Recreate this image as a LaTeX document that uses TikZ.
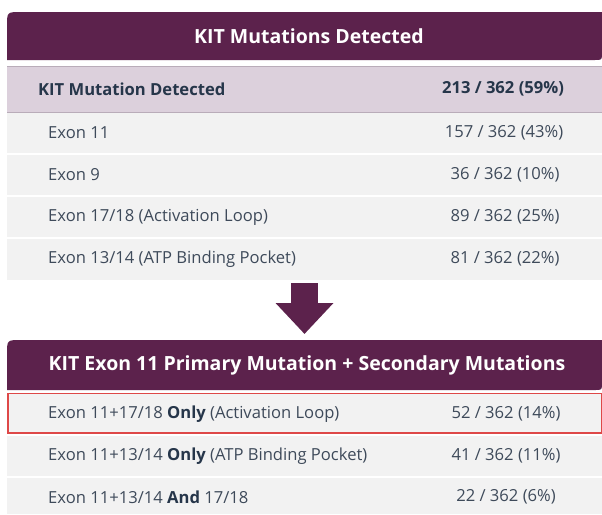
\documentclass[tikz,border=0pt]{standalone}
\usepackage{fontspec}
\setmainfont{Open Sans}
\usetikzlibrary{arrows.meta}
\definecolor{hdr}{RGB}{92,34,76}
\definecolor{lav}{RGB}{220,208,220}
\definecolor{lavline}{RGB}{185,172,185}
\definecolor{rowbg}{RGB}{242,242,242}
\definecolor{txt}{RGB}{62,74,90}
\definecolor{txtb}{RGB}{38,54,74}
\definecolor{redline}{RGB}{222,72,72}
\begin{document}
\begin{tikzpicture}[x=1pt,y=-1pt,
  hdrtext/.style={text=white,font=\fontsize{19.5}{22}\selectfont\bfseries,inner sep=0pt},
  lefttext/.style={anchor=west,text=txt,font=\fontsize{16.6}{19}\selectfont,inner sep=0pt},
  righttext/.style={text=txt,font=\fontsize{16.6}{19}\selectfont,inner sep=0pt},
  boldleft/.style={lefttext,text=txtb,font=\fontsize{16.6}{19}\selectfont\bfseries},
  boldright/.style={righttext,text=txtb,font=\fontsize{16.6}{19}\selectfont\bfseries},
  rowfill/.style={fill=rowbg},
  hdrfill/.style={fill=hdr}]
\useasboundingbox (0,0) rectangle (602,514);
\fill[white] (0,0) rectangle (602,514);
% ---------- table 1 ----------
\fill[hdrfill] (7,60) -- (7,26) .. controls (7,12) .. (21,12) -- (602,12) -- (602,53) .. controls (602,60) .. (595,60) -- cycle;
\node[hdrtext] (h1) at (309,36) {KIT Mutations Detected};
\fill[lav] (7,66) rectangle (602,112);
\draw[lavline,line width=1pt] (7,66) -- (602,66) (7,112) -- (602,112);
\node[boldleft] (r0l) at (38,89) {KIT Mutation Detected};
\node[boldright] (r0r) at (503,89) {213 / 362 (59\%)};
\fill[rowfill] (7,113) rectangle (602,153);
\fill[rowfill] (7,155) rectangle (602,195);
\fill[rowfill] (7,197) rectangle (602,237);
\fill[rowfill] (7,239) rectangle (602,280);
\node[lefttext] (r1l) at (48,133) {Exon 11};
\node[righttext] (r1r) at (504,133) {157 / 362 (43\%)};
\node[lefttext] (r2l) at (48,175) {Exon 9};
\node[righttext] (r2r) at (505,175) {36 / 362 (10\%)};
\node[lefttext] (r3l) at (48,217) {Exon 17/18 (Activation Loop)};
\node[righttext] (r3r) at (505,217) {89 / 362 (25\%)};
\node[lefttext] (r4l) at (48,259) {Exon 13/14 (ATP Binding Pocket)};
\node[righttext] (r4r) at (505,259) {81 / 362 (22\%)};
% ---------- arrow ----------
\coordinate (a1) at (304.5,283);
\coordinate (a2) at (304.5,334);
\draw[hdr,line width=27pt,-{Triangle[width=56pt,length=31pt]}] (a1) -- (a2);
% ---------- table 2 ----------
\fill[hdrfill] (7,390) -- (7,354) .. controls (7,340) .. (21,340) -- (602,340) -- (602,383) .. controls (602,390) .. (595,390) -- cycle;
\node[hdrtext] (h2) at (307,365) {KIT Exon 11 Primary Mutation + Secondary Mutations};
\fill[rowfill] (7,393) rectangle (602,433);
\fill[rowfill] (7,436) rectangle (602,476);
\fill[rowfill] (7,478) rectangle (602,514);
\draw[redline,line width=1.5pt] (7.75,393.5) rectangle (601.25,433);
\node[lefttext] (s1l) at (48,414) {Exon 11+17/18 \textbf{\color{txtb}Only} (Activation Loop)};
\node[righttext] (s1r) at (506,414) {52 / 362 (14\%)};
\node[lefttext] (s2l) at (48,456) {Exon 11+13/14 \textbf{\color{txtb}Only} (ATP Binding Pocket)};
\node[righttext] (s2r) at (506,456) {41 / 362 (11\%)};
\node[lefttext] (s3l) at (48,497) {Exon 11+13/14 \textbf{\color{txtb}And} 17/18};
\node[righttext] (s3r) at (506,497) {22 / 362 (6\%)};
\end{tikzpicture}
\end{document}
